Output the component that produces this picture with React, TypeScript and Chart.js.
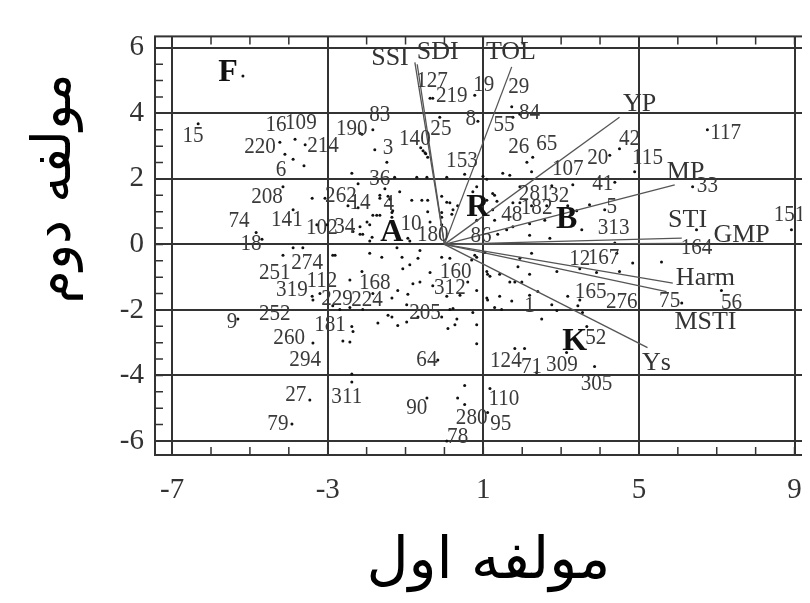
import React, { useEffect, useRef } from "react";
import { Chart, registerables } from "chart.js";

Chart.register(...registerables);

const xTicks = [-7, -3, 1, 5, 9];
const yTicks = [-6, -4, -2, 0, 2, 4, 6];
const xTitle = "مولفه اول";
const yTitle = "مولفه دوم";

const dots: [number, number][] = [
  [-5.18, 5.14], [-6.33, 3.68], [-4.23, 3.12], [-3.84, 3.21], [-3.58, 3.04], [-4.1, 2.75], [-3.89, 2.6], [-3.61, 2.4],
  [-2.17, 3.39], [-1.84, 3.5], [-1.79, 2.89], [-1.48, 2.51], [-0.61, 2.95], [-0.55, 2.86], [-0.48, 2.77],
  [-0.37, 4.46], [-0.3, 4.46], [0.78, 4.55], [-0.12, 3.88], [0.86, 3.76],
  [-2.38, 2.17], [-1.28, 2.05], [-0.71, 2.05], [-0.45, 2.05], [0.06, 2.05],
  [-4.15, 1.76], [-3.4, 1.41], [-3.07, 1.41], [-2.48, 1.18], [-1.66, 1.5], [-1.45, 1.47], [-1.15, 1.61],
  [-0.84, 1.35], [-0.58, 1.35], [-0.07, 1.47], [0.14, 1.27], [-3.89, 1.06], [-4.84, 0.36], [-4.69, 0.16],
  [-3.28, 0.6], [-3.02, 0.6], [-2.35, 0.39], [-2.17, 0.31], [-1.92, 0.6], [-1.84, 0.89], [-1.66, 0.89], [-1.35, 0.97],
  [-0.07, 0.97], [0.19, 0.92], [-0.89, 0.1], [-1.92, 0.1],
  [-2.12, 3.36], [-0.5, 2.8], [-0.43, 2.66], [0.52, 2.14], [-2.22, 1.85], [-1.53, 1.7], [-1.66, 1.41], [-1.4, 1.38],
  [-0.43, 1.35], [0.06, 1.29], [0.22, 1.06], [0.34, 1.18], [0.83, 1.76], [0.73, 1.61], [-0.43, 1.0], [-2.22, 1.12],
  [-1.74, 0.89], [-1.33, 1.03], [-1.35, 0.83], [-1.99, 0.68], [-2.17, 0.54], [-0.37, 0.68], [-0.07, 0.83], [-0.07, 0.6],
  [-2.1, 0.31], [-1.86, 0.22], [-0.94, 0.19], [0.83, 0.74], [0.99, 2.08], [1.09, 1.99], [1.24, 1.55], [1.35, 1.32],
  [2.27, 2.66], [2.12, 2.51], [2.24, 2.22], [1.5, 2.17], [1.68, 2.11],
  [4.25, 2.72], [4.5, 2.92], [4.89, 2.22], [3.3, 1.82], [4.38, 1.9], [2.76, 1.79], [1.94, 1.76], [1.29, 1.5], [1.09, 1.35],
  [1.76, 1.27], [1.94, 1.27], [2.24, 1.18], [2.63, 1.18], [3.17, 1.18], [3.73, 1.21], [4.12, 1.06], [1.24, 1.06], [3.4, 1.03],
  [2.58, 0.74], [2.19, 0.63], [1.29, 0.74], [1.6, 0.45], [1.76, 0.54], [1.37, 0.31], [2.19, 0.28], [2.71, 0.19], [3.53, 0.45], [4.38, 0.04],
  [1.73, 4.2], [1.94, 3.97], [1.76, 3.88], [6.76, 3.5], [6.38, 1.76], [8.92, 0.45], [6.48, 0.45],
  [-2.81, -0.33], [-1.92, -0.27], [-1.61, -0.39], [-1.22, -0.1], [-1.09, -0.39], [-0.63, -0.19], [-0.68, -0.42], [-1.07, -0.74], [-0.89, -0.62],
  [-0.07, -0.39], [0.14, -0.42], [0.7, -0.48], [0.83, -0.39], [-2.12, -0.83], [-0.37, -0.86], [1.09, -0.83], [1.17, -0.97], [0.83, -1.41], [1.09, -1.64],
  [-2.43, -1.09], [-1.84, -1.5], [-1.35, -1.64], [-1.2, -1.41], [-0.94, -1.52], [-0.81, -1.2], [-0.63, -1.15], [-0.3, -1.26],
  [0.06, -1.58], [0.4, -1.55], [0.6, -1.15], [-0.97, -1.84], [-1.45, -2.16], [-1.35, -2.22], [-1.71, -2.4], [-1.2, -2.48], [-0.97, -2.37],
  [-0.68, -2.22], [-0.07, -2.22], [0.14, -1.99], [0.22, -1.96], [0.32, -2.28], [0.27, -2.45], [0.09, -2.57], [0.73, -2.08], [0.83, -2.45], [1.11, -1.7],
  [-2.1, -1.99], [-2.43, -1.93], [-2.69, -1.99], [-2.87, -1.87], [-2.35, -2.66], [-2.61, -2.95], [-2.43, -2.98],
  [-3.89, -0.1], [-3.64, -0.1], [-4.15, -0.33], [-2.87, -0.33],
  [-3.4, -1.58], [-3.38, -1.7], [-3.2, -1.5], [-5.31, -2.28], [-3.38, -3.01], [-2.38, -3.96], [-2.38, -4.2], [-3.46, -4.75], [-3.92, -5.48],
  [-2.38, -2.51], [-0.17, -3.53], [-0.45, -4.69], [0.52, -4.31], [0.34, -4.69], [0.52, -4.89], [0.06, -6.0], [0.83, -3.03],
  [0.78, -0.33], [2.24, -0.27], [5.58, -0.54], [4.84, -0.57], [7.12, -1.41], [6.1, -1.79], [3.66, -2.51], [1.81, -3.18], [2.06, -3.18],
  [3.14, -3.3], [3.86, -3.73], [2.37, -3.91], [1.17, -4.4], [1.11, -5.13],
  [1.04, -0.25], [1.94, -0.42], [1.11, -0.91], [1.42, -0.91], [1.89, -0.68], [2.19, -0.91], [1.68, -1.15], [1.81, -1.15], [1.99, -1.15],
  [2.89, -0.83], [3.48, -0.74], [3.91, -0.86], [4.5, -0.83], [2.4, -1.44], [1.42, -1.58], [1.73, -1.73], [1.29, -1.93], [1.47, -1.99],
  [2.19, -1.55], [2.76, -1.84], [3.17, -1.58], [3.48, -1.7], [3.43, -1.87], [2.89, -2.02], [3.55, -2.08], [2.5, -2.28], [4.43, -0.27],
];

const pointLabels: [string, number, number][] = [
  ["15", -6.46, 3.33], ["16", -4.33, 3.65], ["109", -3.69, 3.7], ["220", -4.74, 2.98], ["214", -3.12, 3.01], ["6", -4.2, 2.28],
  ["190", -2.38, 3.53], ["83", -1.66, 3.97], ["3", -1.45, 2.95], ["140", -0.76, 3.24], ["25", -0.09, 3.53], ["127", -0.32, 5.01],
  ["219", 0.19, 4.55], ["19", 1.01, 4.87], ["8", 0.68, 3.85], ["29", 1.91, 4.81], ["84", 2.19, 4.02], ["55", 1.53, 3.65],
  ["26", 1.91, 2.98], ["65", 2.63, 3.07], ["107", 3.17, 2.31], ["20", 3.94, 2.66], ["42", 4.76, 3.24], ["115", 5.22, 2.66],
  ["117", 7.23, 3.41], ["33", 6.76, 1.79], ["41", 4.07, 1.85], ["281", 2.32, 1.55], ["32", 2.94, 1.5], ["48", 1.73, 0.92],
  ["182", 2.37, 1.12], ["5", 4.3, 1.15], ["313", 4.35, 0.51], ["153", 0.45, 2.57], ["36", -1.66, 2.02], ["262", -2.66, 1.5],
  ["14", -2.17, 1.27], ["4", -1.43, 1.24], ["208", -4.56, 1.47], ["74", -5.28, 0.71], ["141", -4.05, 0.74], ["102", -3.15, 0.51],
  ["34", -2.56, 0.54], ["18", -4.97, 0.02], ["10", -0.86, 0.63], ["180", -0.3, 0.31], ["86", 0.94, 0.25], ["151", 8.87, 0.92],
  ["164", 6.48, -0.1], ["274", -3.53, -0.57], ["251", -4.36, -0.86], ["112", -3.15, -1.12], ["319", -3.92, -1.38],
  ["229", -2.76, -1.67], ["224", -1.99, -1.7], ["168", -1.79, -1.18], ["252", -4.36, -2.11], ["9", -5.46, -2.37],
  ["181", -2.94, -2.45], ["260", -3.99, -2.86], ["294", -3.58, -3.53], ["64", -0.45, -3.53], ["205", -0.5, -2.08],
  ["160", 0.29, -0.83], ["312", 0.14, -1.32], ["27", -3.82, -4.6], ["311", -2.51, -4.66], ["79", -4.28, -5.48], ["90", -0.71, -4.98],
  ["280", 0.7, -5.3], ["78", 0.34, -5.88], ["110", 1.53, -4.72], ["95", 1.45, -5.48], ["124", 1.58, -3.56], ["71", 2.24, -3.73],
  ["309", 3.02, -3.67], ["305", 3.91, -4.26], ["52", 3.89, -2.86], ["1", 2.19, -1.87], ["165", 3.76, -1.44], ["276", 4.56, -1.76],
  ["12", 3.48, -0.45], ["167", 4.09, -0.42], ["75", 5.79, -1.73], ["56", 7.38, -1.79],
];

const groupLabels: [string, number, number][] = [
  ["F", -5.56, 5.24], ["A", -1.35, 0.36], ["R", 0.86, 1.12], ["B", 3.14, 0.74], ["K", 3.35, -2.98],
];

const vectorNames = ["SSI", "SDI", "TOL", "YP", "MP", "STI", "GMP", "Harm", "MSTI", "Ys"];
const vectorEndX = [-0.76, -0.7, 1.73, 4.5, 5.92, 6.1, 6.15, 5.87, 5.71, 5.22];
const vectorEndY = [5.56, 5.5, 5.42, 3.88, 1.82, 0.19, 0.03, -1.18, -1.44, -3.15];
const vectorLabelX = [-1.4, -0.17, 1.71, 5.02, 6.2, 6.25, 7.64, 6.71, 6.71, 5.45];
const vectorLabelY = [5.68, 5.88, 5.88, 4.29, 2.22, 0.74, 0.28, -1.03, -2.37, -3.62];

const SERIF = '"Liberation Serif", "DejaVu Serif", serif';

export default function App() {
  const ref = useRef<HTMLCanvasElement>(null);

  useEffect(() => {
    const canvas = ref.current;
    if (!canvas) return;

    const overlay = {
      id: "overlay",
      afterDatasetsDraw(chart: any) {
        const { ctx, chartArea } = chart;
        const xs = chart.scales.x;
        const ys = chart.scales.y;
        ctx.save();
        ctx.strokeStyle = "#333";
        ctx.lineWidth = 2;
        ctx.strokeRect(chartArea.left, chartArea.top, chartArea.right - chartArea.left, chartArea.bottom - chartArea.top);
        ctx.lineWidth = 1.5;
        ctx.beginPath();
        for (let v = -7; v <= 9; v += 1) {
          const p = xs.getPixelForValue(v);
          ctx.moveTo(p, chartArea.top);
          ctx.lineTo(p, chartArea.top + 8);
          ctx.moveTo(p, chartArea.bottom);
          ctx.lineTo(p, chartArea.bottom - 8);
        }
        for (let v = -6; v <= 6; v += 0.5) {
          const p = ys.getPixelForValue(v);
          ctx.moveTo(chartArea.left, p);
          ctx.lineTo(chartArea.left + 8, p);
          ctx.moveTo(chartArea.right, p);
          ctx.lineTo(chartArea.right - 8, p);
        }
        ctx.stroke();

        ctx.textAlign = "center";
        ctx.textBaseline = "middle";
        ctx.fillStyle = "#3a3a3a";
        ctx.font = `24px ${SERIF}`;
        for (const [t, x, y] of pointLabels) {
          ctx.save();
          ctx.translate(xs.getPixelForValue(x), ys.getPixelForValue(y));
          ctx.scale(0.88, 1);
          ctx.fillText(t, 0, 0);
          ctx.restore();
        }
        ctx.fillStyle = "#333";
        ctx.font = `26px ${SERIF}`;
        vectorNames.forEach((n, i) => {
          ctx.fillText(n, xs.getPixelForValue(vectorLabelX[i]), ys.getPixelForValue(vectorLabelY[i]));
        });
        ctx.fillStyle = "#111";
        ctx.font = `bold 32px ${SERIF}`;
        for (const [t, x, y] of groupLabels) {
          ctx.fillText(t, xs.getPixelForValue(x), ys.getPixelForValue(y));
        }
        ctx.restore();
      },
      afterDraw(chart: any) {
        const { ctx, chartArea } = chart;
        ctx.save();
        ctx.fillStyle = "#000";
        ctx.textAlign = "center";
        ctx.textBaseline = "middle";
        ctx.direction = "rtl";
        const cx = (chartArea.left + chartArea.right) / 2;
        ctx.font = '58px "DejaVu Sans", sans-serif';
        ctx.fillText(xTitle, cx + 5, chartArea.bottom + 108);
        ctx.font = '54px "DejaVu Sans", sans-serif';
        ctx.translate(48, chartArea.top + 152);
        ctx.rotate(-Math.PI / 2);
        ctx.fillText(yTitle, 0, 0);
        ctx.restore();
      },
    };

    const vectorSets = vectorNames.map((n, i) => ({
      type: "scatter" as const,
      label: n,
      data: [{ x: 0, y: 0 }, { x: vectorEndX[i], y: vectorEndY[i] }],
      showLine: true,
      borderColor: "#555",
      borderWidth: 1.3,
      pointRadius: 0,
    }));

    const chart = new Chart(canvas, {
      type: "scatter",
      data: {
        datasets: [
          ...vectorSets,
          {
            label: "points",
            data: dots.map(([x, y]) => ({ x, y })),
            backgroundColor: "#111",
            borderColor: "#111",
            pointRadius: 1.5,
            borderWidth: 0,
          },
        ],
      },
      options: {
        responsive: false,
        animation: false,
        devicePixelRatio: 1,
        layout: { padding: { top: 7, right: 8, left: 0, bottom: 0 } },
        plugins: { legend: { display: false }, tooltip: { enabled: false } },
        scales: {
          x: {
            type: "linear",
            min: -7.44,
            max: 9.44,
            afterBuildTicks: (axis: any) => {
              axis.ticks = xTicks.map((v) => ({ value: v }));
            },
            afterFit: (axis: any) => {
              axis.height = 148;
            },
            grid: { color: "#333", lineWidth: 2, drawTicks: false },
            border: { display: false },
            ticks: {
              autoSkip: false,
              maxRotation: 0,
              padding: 18,
              color: "#333",
              font: { family: SERIF, size: 29 },
            },
          },
          y: {
            type: "linear",
            min: -6.43,
            max: 6.35,
            afterBuildTicks: (axis: any) => {
              axis.ticks = yTicks.map((v) => ({ value: v }));
            },
            afterFit: (axis: any) => {
              axis.width = 147;
            },
            grid: { color: "#333", lineWidth: 2, drawTicks: false },
            border: { display: false },
            ticks: {
              autoSkip: false,
              padding: 11,
              color: "#333",
              font: { family: SERIF, size: 29 },
            },
          },
        },
      },
      plugins: [overlay],
    } as any);

    return () => chart.destroy();
  }, []);

  return (
    <div style={{ width: 802, height: 595, overflow: "hidden" }}>
      <canvas ref={ref} width={812} height={595} style={{ display: "block", width: 812, height: 595 }} />
    </div>
  );
}
